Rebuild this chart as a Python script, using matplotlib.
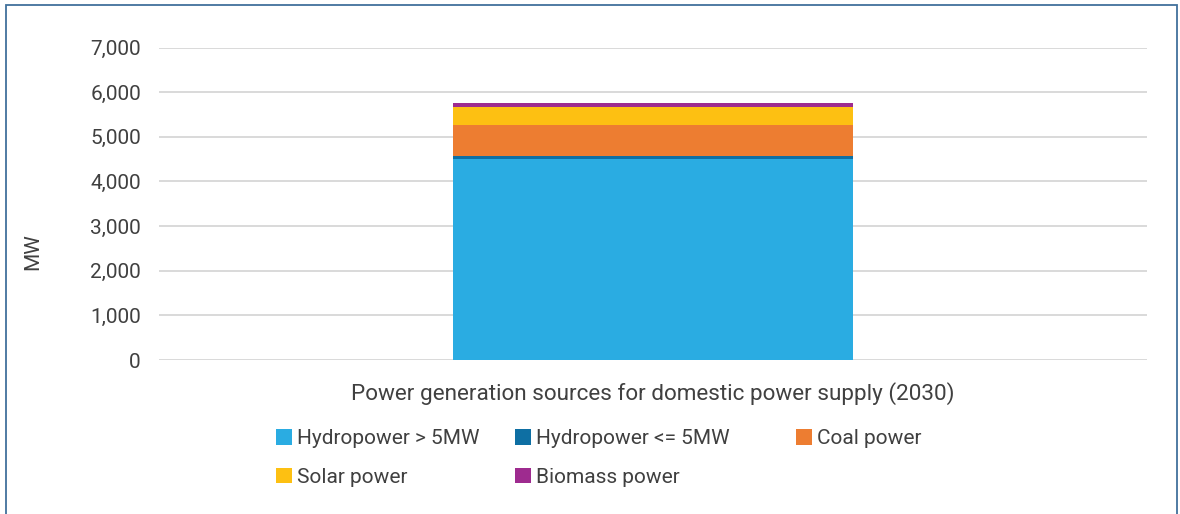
import matplotlib.pyplot as plt
from matplotlib.patches import Rectangle
from matplotlib.ticker import FuncFormatter

# Data
categories = ["Power generation sources for domestic power supply (2030)"]
series = ["Hydropower > 5MW", "Hydropower <= 5MW", "Coal power", "Solar power", "Biomass power"]
hydro_big = [4500]
hydro_small = [65]
coal = [710]
solar = [400]
biomass = [90]
colors = ["#2AACE2", "#0E6FA3", "#ED7D31", "#FDC012", "#9E2B8F"]

plt.rcParams['font.family'] = ['Roboto', 'DejaVu Sans']
text_col = "#404040"

fig = plt.figure(figsize=(11.8, 5.14), dpi=100)
ax = fig.add_axes([159/1180, 1 - 360/514, 988/1180, (360 - 47.5)/514])

bottom = [0] * len(categories)
handles = []
for name, vals, c in zip(series, [hydro_big, hydro_small, coal, solar, biomass], colors):
    b = ax.bar(range(len(categories)), vals, width=0.404, bottom=bottom, color=c, label=name, zorder=3)
    handles.append(b)
    bottom = [a + v for a, v in zip(bottom, vals)]

ax.set_xlim(-0.5, 0.5)
ax.set_ylim(0, 7000)
ax.set_yticks(range(0, 7001, 1000))
ax.yaxis.set_major_formatter(FuncFormatter(lambda v, p: f"{int(v):,}"))
ax.set_xticks(range(len(categories)), categories)
ax.tick_params(axis='both', length=0, labelsize=15, colors=text_col)
ax.tick_params(axis='y', pad=13)
ax.tick_params(axis='x', pad=16, labelsize=16.2)
ax.grid(axis='y', color="#D9D9D9", linewidth=1.4, zorder=0)
ax.set_axisbelow(True)
for s in ax.spines.values():
    s.set_visible(False)

ax.set_ylabel("MW", fontsize=15, color=text_col)
ax.yaxis.set_label_coords(-0.118, 0.346)

# legend laid out in fixed-width columns like the original
columns = [[0, 3], [1, 4], [2]]
col_x = [276, 515, 796]
for idx, x in zip(columns, col_x):
    leg = fig.legend([handles[i] for i in idx], [series[i] for i in idx],
                     loc='upper left', bbox_to_anchor=(x/1180, 1 - 429/514), ncol=1,
                     frameon=False, fontsize=15, labelcolor=text_col, borderpad=0, borderaxespad=0,
                     handlelength=0.77, handleheight=0.77, handletextpad=0.25,
                     labelspacing=0.95)

# outer frame
fig.patches.append(Rectangle((5.5/1180, -0.1), (1177 - 5.5)/1180, 1.1 - 5.5/514,
                             transform=fig.transFigure, fill=False,
                             edgecolor="#41719C", linewidth=1.3))

fig.savefig("out.png", dpi=100)
